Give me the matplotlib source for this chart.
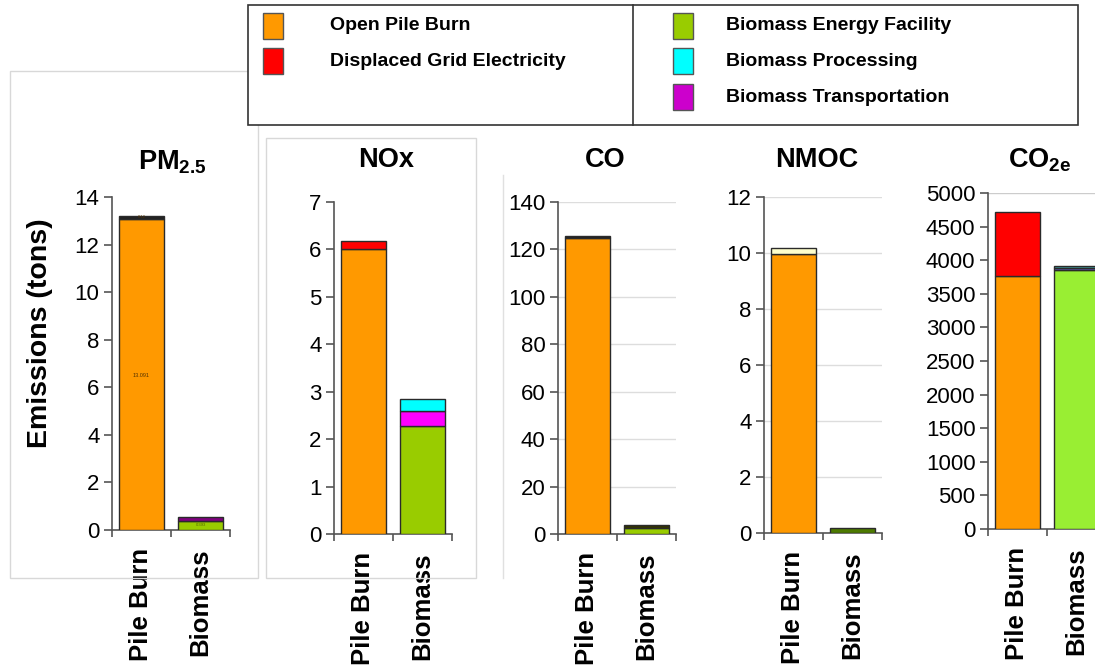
import matplotlib
matplotlib.use("Agg")
import matplotlib.pyplot as plt
from matplotlib.patches import Rectangle
from matplotlib.lines import Line2D

plt.rcParams['font.family'] = ['Liberation Sans', 'DejaVu Sans']
plt.rcParams['mathtext.fontset'] = 'custom'
plt.rcParams['mathtext.rm'] = 'Liberation Sans'
plt.rcParams['mathtext.bf'] = 'Liberation Sans:bold'

# ---------------- data ----------------
categories = ["Pile Burn", "Biomass"]

# PM2.5 (tons)
pm_pile = {"Open Pile Burn": 13.091, "Displaced Grid Electricity": 0.10}
pm_bio = {"Biomass Energy Facility": 0.39, "Biomass Transportation": 0.17}
# NOx
nox_pile = {"Open Pile Burn": 6.0, "Displaced Grid Electricity": 0.17}
nox_bio = {"Biomass Energy Facility": 2.27, "Biomass Transportation": 0.32, "Biomass Processing": 0.26}
# CO
co_pile = {"Open Pile Burn": 125.0, "Displaced Grid Electricity": 0.6}
co_bio = {"Biomass Energy Facility": 2.4, "Biomass Transportation": 1.4}
# NMOC
nmoc_pile = {"Open Pile Burn": 9.97, "Displaced Grid Electricity": 0.2}
nmoc_bio = {"Biomass Energy Facility": 0.17}
# CO2e
co2_pile = {"Open Pile Burn": 3765, "Displaced Grid Electricity": 952}
co2_bio = {"Biomass Energy Facility": 3854, "Biomass Transportation": 26, "Biomass Processing": 38}

legend_left = ["Open Pile Burn", "Displaced Grid Electricity"]
legend_right = ["Biomass Energy Facility", "Biomass Processing", "Biomass Transportation"]

panel_titles = [r"$\mathbf{PM_{2.5}}$", "NOx", "CO", "NMOC", r"$\mathbf{CO_{2e}}$"]
panel_ylims = [14, 7, 140, 12, 5000]
panel_yticks = [list(range(0, 15, 2)), list(range(0, 8, 1)), list(range(0, 141, 20)),
                list(range(0, 13, 2)), list(range(0, 5001, 500))]

legend_colors = {
    "Open Pile Burn": "#FF9900",
    "Displaced Grid Electricity": "#FF0000",
    "Biomass Energy Facility": "#99CC00",
    "Biomass Processing": "#00FFFF",
    "Biomass Transportation": "#CC00CC",
}
# per-panel colour overrides seen in the chart
panel_colors = [
    {"Displaced Grid Electricity": "#222222", "Biomass Transportation": "#800080"},
    {"Biomass Transportation": "#FF00FF"},
    {"Displaced Grid Electricity": "#222222", "Biomass Transportation": "#333300"},
    {"Displaced Grid Electricity": "#FFFFCC", "Biomass Energy Facility": "#4D7A00"},
    {"Biomass Energy Facility": "#99EE33", "Biomass Transportation": "#6A5ACD", "Biomass Processing": "#40A0A0"},
]
stacks = [(pm_pile, pm_bio), (nox_pile, nox_bio), (co_pile, co_bio),
          (nmoc_pile, nmoc_bio), (co2_pile, co2_bio)]

# ---------------- layout (pixels) ----------------
W, H = 1095, 668
fig = plt.figure(figsize=(W / 100, H / 100), dpi=100)

def fx(x):
    return x / W

def fy(y):
    return 1 - y / H

# left, right, y(0), y(top)
axes_px = [(112, 230, 530, 197), (334, 452, 534, 202), (558, 676, 534, 202),
           (764, 882, 533, 197), (988, 1106, 529, 193)]
title_px = [(172, 162), (386, 160), (605, 160), (817, 160), (1040, 160)]
grid_panels = [False, False, True, True, False]

# background frames
fig.add_artist(Rectangle((fx(10), fy(578)), fx(248), 507 / H, transform=fig.transFigure,
                         fill=False, edgecolor="#D8D8D8", lw=1))
fig.add_artist(Rectangle((fx(266), fy(578)), fx(210), 440 / H, transform=fig.transFigure,
                         fill=False, edgecolor="#D8D8D8", lw=1))
fig.add_artist(Line2D([fx(503), fx(503)], [fy(175), fy(578)], transform=fig.transFigure,
                      color="#E0E0E0", lw=1))

for i, (l, r, b, t) in enumerate(axes_px):
    ax = fig.add_axes([fx(l), fy(b), (r - l) / W, (b - t) / H])
    ax.set_facecolor("none")
    ax.set_xlim(-0.5, 1.5)
    ax.set_ylim(0, panel_ylims[i])
    for pos, stack in enumerate(stacks[i]):
        bottom = 0
        for name, val in stack.items():
            col = panel_colors[i].get(name, legend_colors[name])
            ax.bar(pos, val, width=0.77, bottom=bottom, color=col,
                   edgecolor="#2A2A2A", linewidth=1.0, zorder=3)
            bottom += val
    if i == 0:
        ax.text(0, 6.5, "13.091", fontsize=4, ha="center", va="center", color="#553300", zorder=4)
        ax.text(0, 13.14, "0.12", fontsize=3, ha="center", va="center", color="#553300", zorder=4)
        ax.text(1, 0.2, "0.393", fontsize=3, ha="center", va="center", color="#556600", zorder=4)
    if grid_panels[i]:
        ax.yaxis.grid(True, color="#DDDDDD", lw=1, zorder=0)
        ax.set_axisbelow(True)
    if i == 4:
        ax.axhline(5000, color="#CCCCCC", lw=1, zorder=0)
    for s in ["top", "right"]:
        ax.spines[s].set_visible(False)
    for s in ["left", "bottom"]:
        ax.spines[s].set_color("#555555")
        ax.spines[s].set_linewidth(1.2)
    ax.set_yticks(panel_yticks[i])
    ax.tick_params(axis="y", labelsize=16, length=6, width=1.2, color="#555555", pad=3)
    ax.set_xticks([0, 1])
    ax.set_xticklabels(categories, rotation=90, fontsize=18.5, fontweight="bold")
    ax.tick_params(axis="x", which="major", length=0, pad=13)
    ax.set_xticks([-0.5, 0.5, 1.5], minor=True)
    ax.tick_params(axis="x", which="minor", length=5, width=1.2, color="#555555")
    for lab in ax.get_xticklabels():
        lab.set_va("top")
    tx, ty = title_px[i]
    fig.text(fx(tx), fy(ty), panel_titles[i], fontsize=19.5, fontweight="bold",
             ha="center", va="center")

fig.text(fx(40), fy(333), "Emissions (tons)", rotation=90, fontsize=20.5,
         fontweight="bold", ha="center", va="center")

# ---------------- legend ----------------
fig.add_artist(Rectangle((fx(248), fy(125)), 830 / W, 120 / H, transform=fig.transFigure,
                         fill=True, facecolor="white", edgecolor="#333333", lw=1.2, zorder=5))
fig.add_artist(Line2D([fx(633), fx(633)], [fy(5), fy(125)], transform=fig.transFigure,
                      color="#333333", lw=1.2, zorder=6))
rows = [26, 61, 97]
for j, name in enumerate(legend_left):
    y = rows[j]
    fig.add_artist(Rectangle((fx(263), fy(y + 13)), 20 / W, 26 / H, transform=fig.transFigure,
                             facecolor=legend_colors[name], edgecolor="#555555", lw=1, zorder=6))
    fig.text(fx(330), fy(y), name, fontsize=14, fontweight="bold", va="center", ha="left", zorder=6)
for j, name in enumerate(legend_right):
    y = rows[j]
    fig.add_artist(Rectangle((fx(673), fy(y + 13)), 20 / W, 26 / H, transform=fig.transFigure,
                             facecolor=legend_colors[name], edgecolor="#555555", lw=1, zorder=6))
    fig.text(fx(726), fy(y), name, fontsize=14, fontweight="bold", va="center", ha="left", zorder=6)

fig.savefig("out.png", dpi=100)
